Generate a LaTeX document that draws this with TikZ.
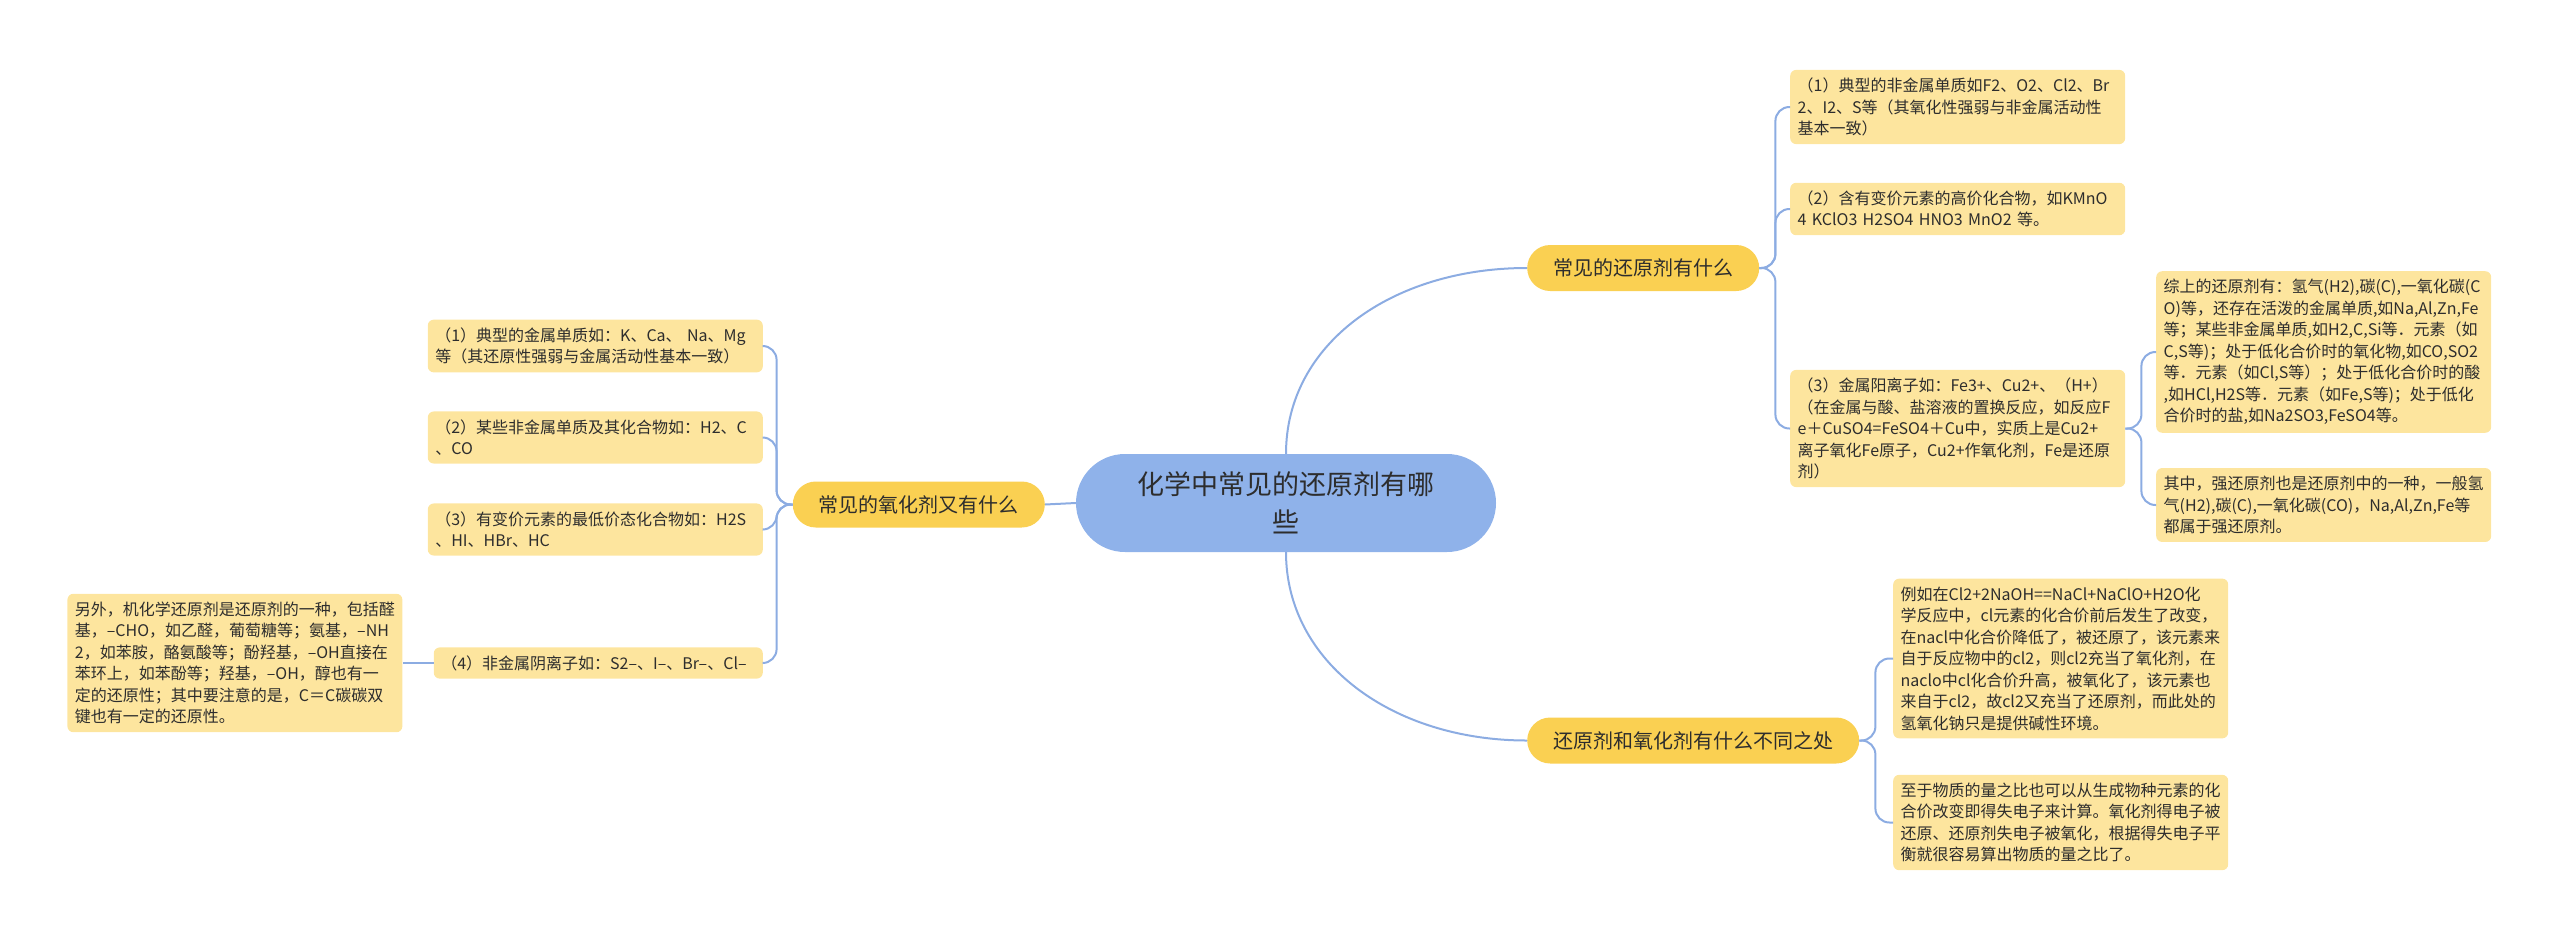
\documentclass[tikz,border=0pt]{standalone}
\usepackage{fontspec}
\setmainfont{Noto Sans CJK SC}
\usetikzlibrary{positioning}
\definecolor{rootcolor}{RGB}{143,178,234}
\definecolor{topiccolor}{RGB}{250,208,82}
\definecolor{notecolor}{RGB}{253,229,158}
\definecolor{linkcolor}{RGB}{140,172,226}
\definecolor{textcolor}{RGB}{45,45,45}

\begin{document}
\begin{tikzpicture}[
    x=1pt, y=-1pt,
    mainnode/.style={rectangle, rounded corners=49pt, fill=rootcolor, minimum width=420pt, minimum height=98pt, align=center, text=textcolor, font=\fontsize{27}{37.5}\selectfont},
    topicnode/.style={rectangle, rounded corners=23pt, fill=topiccolor, minimum height=46pt, inner xsep=26pt, text=textcolor, font=\fontsize{20}{24}\selectfont},
    notenode/.style={rectangle, rounded corners=6pt, fill=notecolor, text width=320pt, inner xsep=7.5pt, inner ysep=8pt, align=left, text=textcolor, font=\fontsize{16}{21.5}\selectfont},
    link/.style={draw=linkcolor, line width=2pt},
    fork/.style={link, rounded corners=14pt}
]
    \useasboundingbox (0,0) rectangle (2560,940);

    % Root
    \node[mainnode] (main) at (1286,503) {化学中常见的还原剂有哪\\些};

    % Topics
    \node[topicnode, anchor=west] (reducer) at (1527,268) {常见的还原剂有什么};
    \node[topicnode, anchor=west] (differ) at (1527,740.5) {还原剂和氧化剂有什么不同之处};
    \node[topicnode, anchor=east] (oxidant) at (1045,504.5) {常见的氧化剂又有什么};

    % Notes of the first topic
    \node[notenode, anchor=west] (red1) at (1790,107) {
        （1）典型的非金属单质如F2、O2、Cl2、Br\\
        2、I2、S等（其氧化性强弱与非金属活动性\\
        基本一致）};
    \node[notenode, anchor=west] (red2) at (1790,209) {
        （2）含有变价元素的高价化合物，如KMnO\\
        4~KClO3~H2SO4~HNO3~MnO2~等。};
    \node[notenode, anchor=west] (red3) at (1790,428.5) {
        （3）金属阳离子如：Fe3+、Cu2+、（H+）\\
        （在金属与酸、盐溶液的置换反应，如反应F\\
        e＋CuSO4=FeSO4＋Cu中，实质上是Cu2+\\
        离子氧化Fe原子，Cu2+作氧化剂，Fe是还原\\
        剂）};
    \node[notenode, anchor=west] (sum1) at (2156,352) {
        综上的还原剂有：氢气(H2),碳(C),一氧化碳(C\\
        O)等，还存在活泼的金属单质,如Na,Al,Zn,Fe\\
        等；某些非金属单质,如H2,C,Si等．元素（如\\
        C,S等)；处于低化合价时的氧化物,如CO,SO2\\
        等．元素（如Cl,S等）；处于低化合价时的酸\\
        ,如HCl,H2S等．元素（如Fe,S等)；处于低化\\
        合价时的盐,如Na2SO3,FeSO4等。};
    \node[notenode, anchor=west] (sum2) at (2156,505) {
        其中，强还原剂也是还原剂中的一种，一般氢\\
        气(H2),碳(C),一氧化碳(CO)，Na,Al,Zn,Fe等\\
        都属于强还原剂。};

    % Notes of the second topic
    \node[notenode, anchor=west] (dif1) at (1893,658.5) {
        例如在Cl2+2NaOH==NaCl+NaClO+H2O化\\
        学反应中，cl元素的化合价前后发生了改变，\\
        在nacl中化合价降低了，被还原了，该元素来\\
        自于反应物中的cl2，则cl2充当了氧化剂，在\\
        naclo中cl化合价升高，被氧化了，该元素也\\
        来自于cl2，故cl2又充当了还原剂，而此处的\\
        氢氧化钠只是提供碱性环境。};
    \node[notenode, anchor=west] (dif2) at (1893,822.5) {
        至于物质的量之比也可以从生成物种元素的化\\
        合价改变即得失电子来计算。氧化剂得电子被\\
        还原、还原剂失电子被氧化，根据得失电子平\\
        衡就很容易算出物质的量之比了。};

    % Notes of the third topic
    \node[notenode, anchor=east] (oxi1) at (763,346) {
        （1）典型的金属单质如：K、Ca、~Na、Mg\\
        等（其还原性强弱与金属活动性基本一致）};
    \node[notenode, anchor=east] (oxi2) at (763,437.5) {
        （2）某些非金属单质及其化合物如：H2、C\\
        、CO};
    \node[notenode, anchor=east] (oxi3) at (763,529.5) {
        （3）有变价元素的最低价态化合物如：H2S\\
        、HI、HBr、HC};
    \node[notenode, anchor=east, text width=314pt] (oxi4) at (763,663) {
        （4）非金属阴离子如：S2–、I–、Br–、Cl–};
    \node[notenode, left=31pt of oxi4] (organic) {
        另外，机化学还原剂是还原剂的一种，包括醛\\
        基，–CHO，如乙醛，葡萄糖等；氨基，–NH\\
        2，如苯胺，酪氨酸等；酚羟基，–OH直接在\\
        苯环上，如苯酚等；羟基，–OH，醇也有一\\
        定的还原性；其中要注意的是，C＝C碳碳双\\
        键也有一定的还原性。};

    % Root links
    \draw[link] (main.north) .. controls +(0,-110) and +(-135,0) .. (reducer.west);
    \draw[link] (main.south) .. controls +(0,110) and +(-135,0) .. (differ.west);
    \draw[link] (main.west) -- (oxidant.east);

    % Topic links
    \foreach \n in {red1,red2,red3}
        \draw[fork] (reducer.east) -- ++(16,0) |- (\n.west);
    \foreach \n in {sum1,sum2}
        \draw[fork] (red3.east) -- ++(16,0) |- (\n.west);
    \foreach \n in {dif1,dif2}
        \draw[fork] (differ.east) -- ++(16,0) |- (\n.west);
    \foreach \n in {oxi1,oxi2,oxi3,oxi4}
        \draw[fork] (oxidant.west) -- ++(-16,0) |- (\n.east);
    \draw[link] (oxi4.west) -- (organic.east);

\end{tikzpicture}
\end{document}
